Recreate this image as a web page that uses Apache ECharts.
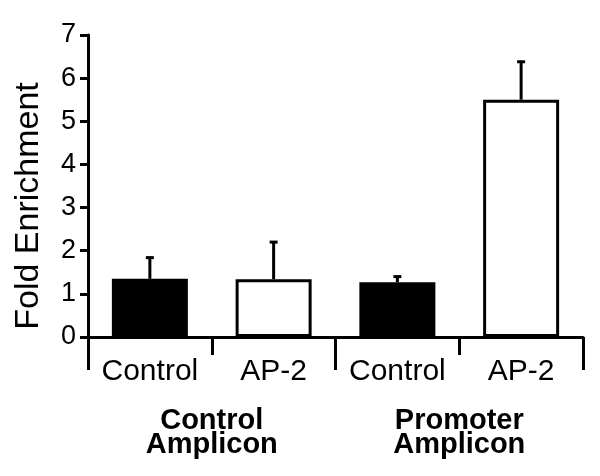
<!DOCTYPE html>
<html>
<head>
<meta charset="utf-8">
<script src="https://cdn.jsdelivr.net/npm/echarts@6/dist/echarts.min.js"></script>
<style>
html,body{margin:0;padding:0;background:#fff;}
#chart{width:600px;height:476px;}
</style>
</head>
<body>
<div id="chart"></div>
<script>
var categories = ['Control', 'AP-2', 'Control', 'AP-2'];
var groups = ['Control\nAmplicon', 'Promoter\nAmplicon'];
var values = [1.35, 1.34, 1.27, 5.5];
var errorUpper = [1.84, 2.2, 1.4, 6.38];
var filled = [true, false, true, false];
var yTicks = [0, 1, 2, 3, 4, 5, 6, 7];

var FONT = '"Liberation Sans", Arial, Helvetica, sans-serif';

var chart = echarts.init(document.getElementById('chart'), null, {renderer: 'canvas'});

var barData = values.map(function (v, i) {
  return {
    value: v,
    itemStyle: {
      color: filled[i] ? '#000' : '#fff',
      borderColor: '#000',
      borderWidth: filled[i] ? 0 : 3
    }
  };
});

var errData = values.map(function (v, i) { return [i, v, errorUpper[i]]; });

var option = {
  animation: false,
  backgroundColor: '#fff',
  grid: {left: 88, right: 17, top: 35, bottom: 139, containLabel: false, outerBoundsMode: 'none'},
  xAxis: [
    {
      type: 'category',
      data: categories,
      position: 'bottom',
      axisLine: {show: true, lineStyle: {color: '#000', width: 3}},
      axisTick: {show: true, length: 18, lineStyle: {color: '#000', width: 3}, alignWithLabel: false},
      axisLabel: {color: '#000', fontFamily: FONT, fontSize: 30, margin: 20, interval: 0}
    },
    {
      type: 'category',
      data: groups,
      position: 'bottom',
      axisLine: {show: false},
      axisTick: {show: true, length: 33, lineStyle: {color: '#000', width: 3}},
      axisLabel: {color: '#000', fontFamily: FONT, fontSize: 29, fontWeight: 'bold', lineHeight: 24, margin: 72, interval: 0}
    }
  ],
  yAxis: {
    type: 'value',
    min: yTicks[0],
    max: yTicks[yTicks.length - 1],
    interval: 1,
    name: 'Fold Enrichment',
    nameLocation: 'middle',
    nameRotate: 90,
    nameGap: 42,
    nameTextStyle: {color: '#000', fontFamily: FONT, fontSize: 34, padding: [0, 40, 0, 0]},
    axisLine: {show: true, lineStyle: {color: '#000', width: 3}},
    axisTick: {show: true, length: 8, lineStyle: {color: '#000', width: 3}},
    axisLabel: {color: '#000', fontFamily: FONT, fontSize: 27, margin: 12},
    splitLine: {show: false}
  },
  series: [
    {
      type: 'bar',
      xAxisIndex: 0,
      data: barData,
      barWidth: 76,
      z: 2
    },
    {
      type: 'custom',
      xAxisIndex: 0,
      data: errData,
      z: 3,
      renderItem: function (params, api) {
        var x = api.value(0);
        var low = api.coord([x, api.value(1)]);
        var high = api.coord([x, api.value(2)]);
        var half = 4;
        return {
          type: 'group',
          children: [
            {type: 'line', shape: {x1: low[0], y1: low[1], x2: high[0], y2: high[1]}, style: {stroke: '#000', lineWidth: 3}},
            {type: 'line', shape: {x1: high[0] - half, y1: high[1], x2: high[0] + half, y2: high[1]}, style: {stroke: '#000', lineWidth: 3}}
          ]
        };
      }
    }
  ]
};
chart.setOption(option);
</script>
</body>
</html>
